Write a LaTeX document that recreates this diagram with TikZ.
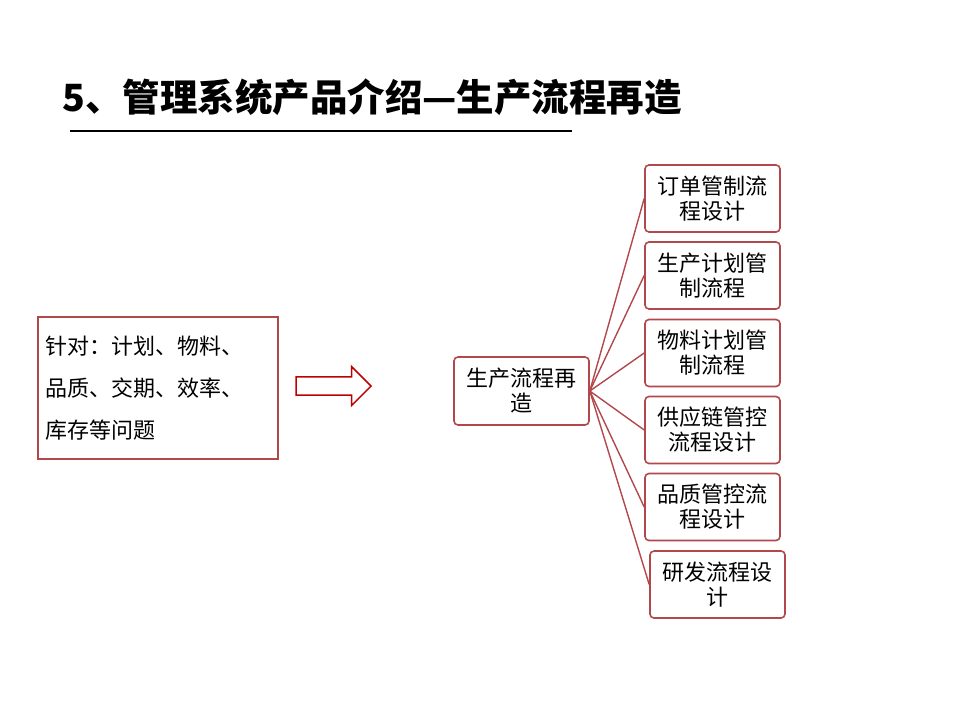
\documentclass[tikz,border=0pt]{standalone}
\usepackage{fontspec}
\setmainfont{Noto Sans CJK SC}
\usetikzlibrary{shapes.arrows}
\definecolor{bd}{RGB}{178,72,76}
\definecolor{ar}{RGB}{192,0,0}
\begin{document}
\begin{tikzpicture}[x=1pt,y=-1pt,
  rbox/.style={draw=bd,line width=1.6pt,rounded corners=4pt,fill=white,minimum width=135pt,minimum height=67pt,align=center,font=\fontsize{22}{25}\selectfont,inner sep=1pt},
  conn/.style={draw=bd,line width=1.4pt}]
\useasboundingbox (0,0) rectangle (960,720);
\node[anchor=west,font=\fontsize{37.5}{40}\selectfont\bfseries,inner sep=0pt] (title) at (62,97) {5、管理系统产品介绍—生产流程再造};
\coordinate (u1) at (70,131); \coordinate (u2) at (572,131);
\draw[line width=2pt] (u1) -- (u2);
\node[draw=bd,line width=1.6pt,minimum width=234pt,minimum height=142pt,anchor=north west,text width=224pt,align=left,font=\fontsize{22}{42}\selectfont,inner xsep=8pt,inner ysep=4pt] (left) at (37,316) {针对：计划、物料、\\品质、交期、效率、\\库存等问题};
\node[single arrow,draw=ar,line width=1.5pt,fill=white,minimum height=75pt,minimum width=39pt,single arrow head extend=2pt,inner sep=1pt] (arr) at (329,386) {};
\node[rbox,minimum height=68pt] (c) at (521.5,391) {生产流程再\\造};
\node[rbox] (b1) at (712.5,198.5) {订单管制流\\程设计};
\node[rbox] (b2) at (712.5,275.5) {生产计划管\\制流程};
\node[rbox] (b3) at (712.5,353) {物料计划管\\制流程};
\node[rbox] (b4) at (712.5,430) {供应链管控\\流程设计};
\node[rbox] (b5) at (712.5,507) {品质管控流\\程设计};
\node[rbox] (b6) at (717.5,584.5) {研发流程设\\计};
\foreach \b in {b1,b2,b3,b4,b5,b6} \draw[conn] (c.east) -- (\b.west);
\end{tikzpicture}
\end{document}
